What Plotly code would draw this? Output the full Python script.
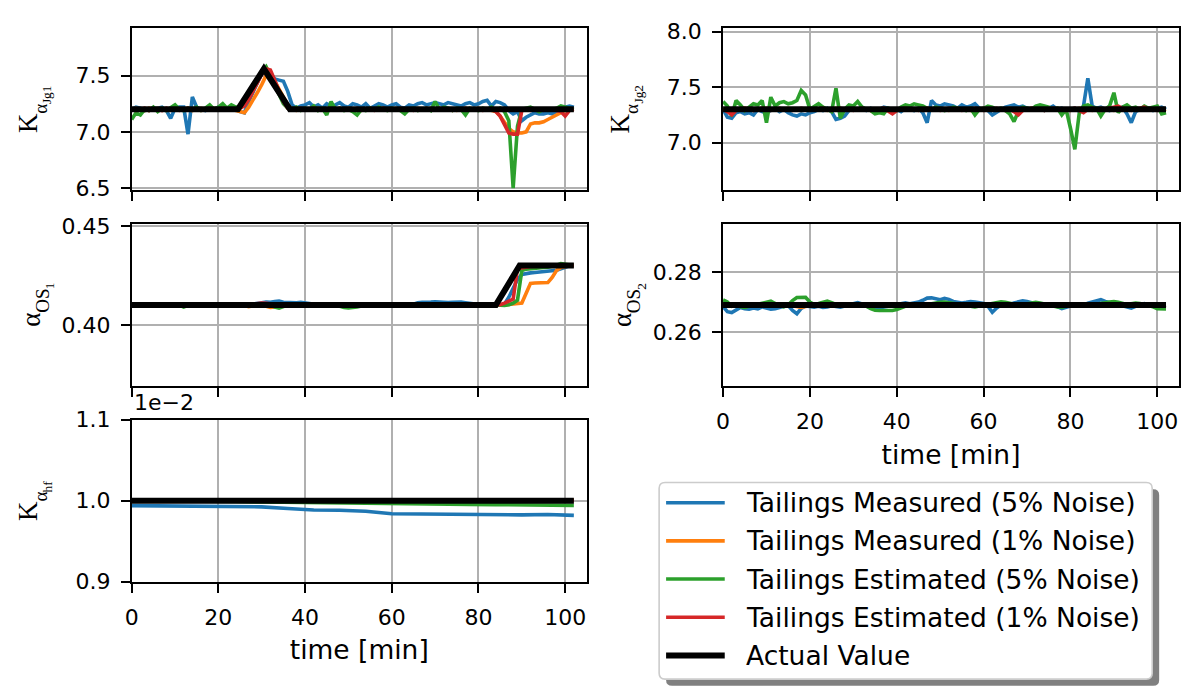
import plotly.graph_objects as go

W, H = 1186, 695

# ---------------------------------------------------------------- data
t = list(range(0, 103))              # sample times [min]
t_hf = list(range(0, 103, 6))        # coarser samples for the K_hf traces

series_names = [
    "Tailings Measured (5% Noise)",
    "Tailings Measured (1% Noise)",
    "Tailings Estimated (5% Noise)",
    "Tailings Estimated (1% Noise)",
    "Actual Value",
]
series_colors = ["#1f77b4", "#ff7f0e", "#2ca02c", "#d62728", "#000000"]

# K_alpha_Jg1
k_jg1_meas5 = [
    7.20, 7.22, 7.21, 7.19, 7.20, 7.21, 7.21, 7.22, 7.19, 7.12,
    7.21, 7.22, 7.22, 6.98, 7.31, 7.22, 7.20, 7.19, 7.21, 7.20,
    7.22, 7.21, 7.20, 7.21, 7.20, 7.18, 7.17, 7.27, 7.36, 7.44,
    7.52, 7.56, 7.52, 7.47, 7.46, 7.45, 7.36, 7.24, 7.21, 7.23,
    7.24, 7.26, 7.22, 7.24, 7.21, 7.25, 7.23, 7.24, 7.26, 7.23,
    7.22, 7.25, 7.24, 7.22, 7.25, 7.21, 7.23, 7.25, 7.24, 7.22,
    7.24, 7.25, 7.22, 7.21, 7.24, 7.23, 7.25, 7.26, 7.24, 7.25,
    7.26, 7.25, 7.24, 7.26, 7.25, 7.24, 7.23, 7.25, 7.26, 7.24,
    7.25, 7.27, 7.28, 7.23, 7.27, 7.26, 7.24, 7.19, 7.16, 7.18,
    7.10, 7.13, 7.15, 7.17, 7.16, 7.16, 7.17, 7.16, 7.18, 7.20,
    7.22, 7.23, 7.22]
k_jg1_meas1 = [
    7.20, 7.21, 7.20, 7.19, 7.21, 7.20, 7.21, 7.20, 7.19, 7.20,
    7.21, 7.20, 7.20, 7.21, 7.19, 7.20, 7.21, 7.20, 7.20, 7.21,
    7.20, 7.21, 7.20, 7.20, 7.19, 7.18, 7.17, 7.22, 7.28, 7.35,
    7.42, 7.50, 7.52, 7.45, 7.38, 7.32, 7.24, 7.20, 7.19, 7.20,
    7.21, 7.20, 7.20, 7.21, 7.20, 7.19, 7.20, 7.21, 7.20, 7.20,
    7.21, 7.20, 7.20, 7.19, 7.20, 7.21, 7.20, 7.20, 7.21, 7.20,
    7.20, 7.21, 7.20, 7.19, 7.20, 7.20, 7.21, 7.20, 7.20, 7.21,
    7.20, 7.20, 7.21, 7.20, 7.20, 7.19, 7.20, 7.21, 7.20, 7.20,
    7.21, 7.20, 7.20, 7.19, 7.18, 7.14, 7.08, 7.03, 7.00, 6.99,
    6.99, 7.00, 7.07, 7.08, 7.08, 7.09, 7.11, 7.13, 7.15, 7.17,
    7.19, 7.20, 7.20]
k_jg1_est5 = [
    7.11, 7.17, 7.15, 7.20, 7.19, 7.22, 7.18, 7.21, 7.19, 7.22,
    7.24, 7.20, 7.19, 7.21, 7.20, 7.22, 7.19, 7.21, 7.24, 7.20,
    7.22, 7.25, 7.21, 7.24, 7.22, 7.22, 7.26, 7.32, 7.40, 7.47,
    7.54, 7.58, 7.50, 7.42, 7.33, 7.25, 7.21, 7.20, 7.22, 7.19,
    7.21, 7.20, 7.23, 7.19, 7.21, 7.15, 7.27, 7.20, 7.21, 7.19,
    7.20, 7.18, 7.15, 7.20, 7.19, 7.21, 7.20, 7.22, 7.20, 7.19,
    7.21, 7.20, 7.19, 7.16, 7.20, 7.21, 7.19, 7.20, 7.21, 7.19,
    7.27, 7.20, 7.22, 7.21, 7.19, 7.21, 7.20, 7.15, 7.21, 7.20,
    7.19, 7.21, 7.20, 7.22, 7.19, 7.21, 7.18, 7.10, 6.50, 7.05,
    7.20, 7.21, 7.22, 7.20, 7.18, 7.20, 7.19, 7.20, 7.21, 7.23,
    7.22, 7.21, 7.20]
k_jg1_est1 = [
    7.20, 7.19, 7.20, 7.21, 7.19, 7.20, 7.20, 7.19, 7.21, 7.20,
    7.20, 7.19, 7.20, 7.21, 7.20, 7.20, 7.19, 7.20, 7.21, 7.20,
    7.20, 7.21, 7.20, 7.20, 7.20, 7.21, 7.23, 7.29, 7.36, 7.44,
    7.51, 7.56, 7.55, 7.46, 7.36, 7.27, 7.21, 7.20, 7.20, 7.21,
    7.20, 7.20, 7.21, 7.20, 7.20, 7.19, 7.20, 7.20, 7.21, 7.20,
    7.20, 7.20, 7.21, 7.20, 7.20, 7.20, 7.19, 7.20, 7.21, 7.20,
    7.20, 7.20, 7.21, 7.20, 7.20, 7.19, 7.20, 7.20, 7.21, 7.20,
    7.20, 7.21, 7.20, 7.20, 7.19, 7.20, 7.20, 7.21, 7.20, 7.20,
    7.20, 7.19, 7.20, 7.20, 7.18, 7.14, 7.06, 6.99, 6.98, 6.98,
    7.19, 7.20, 7.19, 7.20, 7.20, 7.19, 7.20, 7.20, 7.19, 7.18,
    7.14, 7.19, 7.20]
t_jg1_act = [0, 24.5, 30.5, 36.5, 102]
k_jg1_act = [7.2, 7.2, 7.56, 7.2, 7.2]

# alpha_OS1
a_os1_meas5 = [
    0.4101, 0.4099, 0.4100, 0.4098, 0.4100, 0.4101, 0.4099, 0.4100, 0.4102, 0.4100,
    0.4099, 0.4101, 0.4100, 0.4098, 0.4100, 0.4101, 0.4100, 0.4099, 0.4101, 0.4100,
    0.4102, 0.4101, 0.4100, 0.4099, 0.4100, 0.4101, 0.4100, 0.4102, 0.4104, 0.4108,
    0.4112, 0.4115, 0.4114, 0.4118, 0.4120, 0.4114, 0.4112, 0.4113, 0.4112, 0.4114,
    0.4113, 0.4108, 0.4104, 0.4100, 0.4101, 0.4102, 0.4100, 0.4101, 0.4103, 0.4101,
    0.4100, 0.4099, 0.4100, 0.4101, 0.4100, 0.4098, 0.4100, 0.4101, 0.4100, 0.4099,
    0.4100, 0.4101, 0.4100, 0.4099, 0.4101, 0.4104, 0.4112, 0.4114, 0.4113, 0.4115,
    0.4116, 0.4114, 0.4115, 0.4113, 0.4114, 0.4116, 0.4115, 0.4112, 0.4108, 0.4104,
    0.4101, 0.4100, 0.4101, 0.4100, 0.4099, 0.4100, 0.4106, 0.4140, 0.4185, 0.4230,
    0.4255, 0.4260, 0.4263, 0.4265, 0.4267, 0.4268, 0.4270, 0.4272, 0.4276, 0.4284,
    0.4293, 0.4299, 0.4300]
a_os1_meas1 = [
    0.4100, 0.4100, 0.4101, 0.4100, 0.4099, 0.4100, 0.4100, 0.4101, 0.4100, 0.4100,
    0.4100, 0.4099, 0.4100, 0.4100, 0.4101, 0.4100, 0.4100, 0.4099, 0.4100, 0.4100,
    0.4100, 0.4101, 0.4100, 0.4100, 0.4099, 0.4100, 0.4098, 0.4092, 0.4096, 0.4101,
    0.4100, 0.4094, 0.4088, 0.4090, 0.4100, 0.4101, 0.4100, 0.4099, 0.4100, 0.4100,
    0.4100, 0.4101, 0.4100, 0.4099, 0.4100, 0.4100, 0.4101, 0.4100, 0.4100, 0.4099,
    0.4100, 0.4100, 0.4101, 0.4100, 0.4100, 0.4099, 0.4100, 0.4100, 0.4101, 0.4100,
    0.4100, 0.4099, 0.4100, 0.4100, 0.4101, 0.4100, 0.4100, 0.4099, 0.4100, 0.4100,
    0.4101, 0.4100, 0.4100, 0.4099, 0.4100, 0.4100, 0.4101, 0.4100, 0.4100, 0.4099,
    0.4100, 0.4100, 0.4101, 0.4100, 0.4100, 0.4100, 0.4101, 0.4103, 0.4106, 0.4108,
    0.4110, 0.4160, 0.4210, 0.4212, 0.4212, 0.4213, 0.4214, 0.4240, 0.4275, 0.4290,
    0.4296, 0.4300, 0.4300]
a_os1_est5 = [
    0.4101, 0.4104, 0.4100, 0.4099, 0.4101, 0.4102, 0.4104, 0.4100, 0.4099, 0.4100,
    0.4101, 0.4100, 0.4090, 0.4099, 0.4100, 0.4101, 0.4100, 0.4099, 0.4100, 0.4104,
    0.4101, 0.4100, 0.4099, 0.4100, 0.4101, 0.4100, 0.4099, 0.4100, 0.4101, 0.4100,
    0.4099, 0.4096, 0.4100, 0.4090, 0.4084, 0.4092, 0.4100, 0.4099, 0.4100, 0.4101,
    0.4104, 0.4100, 0.4099, 0.4098, 0.4100, 0.4101, 0.4104, 0.4100, 0.4092, 0.4088,
    0.4086, 0.4087, 0.4090, 0.4095, 0.4100, 0.4099, 0.4100, 0.4101, 0.4099, 0.4100,
    0.4099, 0.4100, 0.4101, 0.4100, 0.4099, 0.4100, 0.4101, 0.4100, 0.4099, 0.4100,
    0.4101, 0.4100, 0.4099, 0.4100, 0.4101, 0.4100, 0.4099, 0.4100, 0.4100, 0.4099,
    0.4100, 0.4101, 0.4100, 0.4099, 0.4100, 0.4099, 0.4098, 0.4102, 0.4110, 0.4125,
    0.4275, 0.4282, 0.4285, 0.4287, 0.4288, 0.4290, 0.4292, 0.4296, 0.4302, 0.4310,
    0.4308, 0.4303, 0.4300]
a_os1_est1 = [
    0.4100, 0.4101, 0.4100, 0.4100, 0.4099, 0.4100, 0.4100, 0.4100, 0.4101, 0.4100,
    0.4100, 0.4100, 0.4099, 0.4100, 0.4100, 0.4101, 0.4100, 0.4100, 0.4100, 0.4099,
    0.4100, 0.4100, 0.4101, 0.4100, 0.4100, 0.4100, 0.4099, 0.4100, 0.4104, 0.4108,
    0.4110, 0.4109, 0.4106, 0.4101, 0.4100, 0.4100, 0.4100, 0.4099, 0.4100, 0.4100,
    0.4101, 0.4100, 0.4100, 0.4100, 0.4099, 0.4100, 0.4100, 0.4101, 0.4100, 0.4100,
    0.4100, 0.4099, 0.4100, 0.4100, 0.4100, 0.4101, 0.4100, 0.4100, 0.4099, 0.4100,
    0.4100, 0.4100, 0.4101, 0.4100, 0.4100, 0.4100, 0.4099, 0.4100, 0.4100, 0.4101,
    0.4100, 0.4100, 0.4100, 0.4099, 0.4100, 0.4100, 0.4101, 0.4100, 0.4100, 0.4100,
    0.4099, 0.4100, 0.4100, 0.4100, 0.4101, 0.4102, 0.4110, 0.4120, 0.4130, 0.4285,
    0.4290, 0.4292, 0.4295, 0.4296, 0.4297, 0.4298, 0.4299, 0.4300, 0.4300, 0.4300,
    0.4300, 0.4300, 0.4300]
t_os1_act = [0, 84, 89.5, 102]
a_os1_act = [0.41, 0.41, 0.43, 0.43]

# K_alpha_hf
k_hf_meas5 = [0.009940, 0.009938, 0.009935, 0.009930, 0.009928, 0.009925,
              0.009905, 0.009886, 0.009882, 0.009870, 0.009840, 0.009836,
              0.009834, 0.009831, 0.009829, 0.009826, 0.009830, 0.009820]
k_hf_meas1 = [0.010000, 0.010002, 0.010003, 0.010004, 0.010006, 0.010012,
              0.010015, 0.010012, 0.010010, 0.010010, 0.010011, 0.010010,
              0.010010, 0.010011, 0.010010, 0.010010, 0.010011, 0.010010]
k_hf_est5 = [0.010000, 0.010000, 0.009998, 0.009995, 0.009990, 0.009985,
             0.009980, 0.009975, 0.009970, 0.009965, 0.009962, 0.009960,
             0.009958, 0.009955, 0.009952, 0.009950, 0.009947, 0.009943]
k_hf_est1 = [0.010000, 0.010001, 0.010000, 0.010001, 0.010002, 0.010003,
             0.010002, 0.010001, 0.010001, 0.010000, 0.010001, 0.010000,
             0.010000, 0.010001, 0.010000, 0.010000, 0.010001, 0.010000]
t_flat_act = [0, 102]
k_hf_act = [0.01, 0.01]
HF_SCALE = 1e-2

# K_alpha_Jg2
k_jg2_meas5 = [
    7.30, 7.23, 7.22, 7.27, 7.28, 7.26, 7.27, 7.25, 7.30, 7.28,
    7.27, 7.29, 7.31, 7.28, 7.30, 7.27, 7.25, 7.24, 7.26, 7.25,
    7.27, 7.28, 7.30, 7.29, 7.31, 7.28, 7.21, 7.22, 7.24, 7.29,
    7.31, 7.30, 7.32, 7.29, 7.31, 7.28, 7.30, 7.32, 7.31, 7.29,
    7.30, 7.28, 7.31, 7.30, 7.29, 7.31, 7.27, 7.18, 7.38, 7.34,
    7.33, 7.35, 7.34, 7.33, 7.31, 7.34, 7.32, 7.33, 7.35, 7.31,
    7.30, 7.29, 7.25, 7.28, 7.30, 7.32, 7.33, 7.34, 7.32, 7.33,
    7.31, 7.30, 7.32, 7.31, 7.29, 7.31, 7.33, 7.30, 7.31, 7.29,
    7.30, 7.31, 7.28, 7.33, 7.58, 7.33, 7.31, 7.32, 7.30, 7.29,
    7.31, 7.30, 7.32, 7.26, 7.18, 7.28, 7.30, 7.32, 7.31, 7.29,
    7.31, 7.32, 7.30]
k_jg2_meas1 = [
    7.30, 7.31, 7.29, 7.30, 7.30, 7.31, 7.30, 7.29, 7.30, 7.30,
    7.31, 7.30, 7.30, 7.29, 7.30, 7.31, 7.30, 7.30, 7.29, 7.30,
    7.30, 7.31, 7.30, 7.30, 7.29, 7.30, 7.31, 7.30, 7.30, 7.29,
    7.30, 7.30, 7.31, 7.30, 7.29, 7.30, 7.30, 7.31, 7.30, 7.30,
    7.29, 7.30, 7.30, 7.31, 7.30, 7.30, 7.29, 7.30, 7.30, 7.31,
    7.30, 7.30, 7.29, 7.30, 7.31, 7.30, 7.30, 7.29, 7.30, 7.30,
    7.31, 7.30, 7.30, 7.29, 7.30, 7.30, 7.31, 7.30, 7.30, 7.29,
    7.30, 7.31, 7.30, 7.30, 7.29, 7.30, 7.30, 7.31, 7.30, 7.30,
    7.29, 7.30, 7.31, 7.30, 7.30, 7.29, 7.30, 7.31, 7.30, 7.30,
    7.29, 7.30, 7.30, 7.31, 7.30, 7.29, 7.30, 7.30, 7.31, 7.30,
    7.30, 7.29, 7.30]
k_jg2_est5 = [
    7.37, 7.33, 7.24, 7.38, 7.34, 7.29, 7.32, 7.35, 7.34, 7.38,
    7.18, 7.41, 7.33, 7.36, 7.37, 7.35, 7.36, 7.38, 7.47, 7.43,
    7.30, 7.33, 7.35, 7.32, 7.30, 7.28, 7.49, 7.22, 7.30, 7.34,
    7.33, 7.37, 7.32, 7.30, 7.29, 7.26, 7.27, 7.26, 7.31, 7.30,
    7.29, 7.32, 7.34, 7.33, 7.35, 7.34, 7.33, 7.31, 7.30, 7.32,
    7.31, 7.29, 7.30, 7.32, 7.31, 7.30, 7.29, 7.31, 7.25, 7.30,
    7.31, 7.33, 7.32, 7.30, 7.31, 7.29, 7.26, 7.19, 7.28, 7.32,
    7.31, 7.30, 7.33, 7.34, 7.33, 7.32, 7.30, 7.31, 7.25, 7.30,
    7.13, 6.94, 7.26, 7.33, 7.34, 7.32, 7.31, 7.24, 7.30, 7.33,
    7.45, 7.27, 7.32, 7.34, 7.31, 7.32, 7.30, 7.33, 7.31, 7.32,
    7.33, 7.26, 7.27]
k_jg2_est1 = [
    7.30, 7.28, 7.25, 7.29, 7.30, 7.31, 7.30, 7.29, 7.30, 7.31,
    7.30, 7.29, 7.30, 7.31, 7.30, 7.30, 7.29, 7.30, 7.31, 7.30,
    7.29, 7.30, 7.30, 7.31, 7.30, 7.29, 7.30, 7.31, 7.30, 7.30,
    7.29, 7.30, 7.31, 7.30, 7.29, 7.30, 7.30, 7.31, 7.28, 7.26,
    7.29, 7.30, 7.31, 7.30, 7.30, 7.29, 7.30, 7.31, 7.30, 7.30,
    7.29, 7.30, 7.31, 7.30, 7.30, 7.29, 7.30, 7.30, 7.31, 7.30,
    7.29, 7.30, 7.30, 7.31, 7.30, 7.29, 7.30, 7.28, 7.25, 7.29,
    7.30, 7.31, 7.30, 7.30, 7.29, 7.30, 7.31, 7.30, 7.30, 7.29,
    7.30, 7.31, 7.29, 7.27, 7.30, 7.31, 7.30, 7.29, 7.30, 7.31,
    7.32, 7.33, 7.31, 7.30, 7.29, 7.30, 7.31, 7.32, 7.30, 7.30,
    7.29, 7.30, 7.30]
k_jg2_act = [7.3, 7.3]

# alpha_OS2
a_os2_meas5 = [
    0.2685, 0.2668, 0.2665, 0.2672, 0.2682, 0.2678, 0.2676, 0.2680, 0.2677, 0.2684,
    0.2680, 0.2676, 0.2678, 0.2683, 0.2686, 0.2688, 0.2672, 0.2661, 0.2679, 0.2687,
    0.2684, 0.2683, 0.2686, 0.2682, 0.2684, 0.2688, 0.2685, 0.2683, 0.2687, 0.2690,
    0.2692, 0.2698, 0.2694, 0.2688, 0.2680, 0.2678, 0.2681, 0.2684, 0.2686, 0.2689,
    0.2692, 0.2695, 0.2697, 0.2694, 0.2696, 0.2700, 0.2706, 0.2713, 0.2714, 0.2710,
    0.2708, 0.2712, 0.2709, 0.2702, 0.2698, 0.2697, 0.2699, 0.2702, 0.2700, 0.2698,
    0.2695, 0.2686, 0.2666, 0.2680, 0.2690, 0.2694, 0.2692, 0.2697, 0.2701, 0.2704,
    0.2702, 0.2698, 0.2695, 0.2690, 0.2686, 0.2689, 0.2692, 0.2685, 0.2678, 0.2683,
    0.2688, 0.2691, 0.2694, 0.2690, 0.2696, 0.2701, 0.2706, 0.2708, 0.2702, 0.2697,
    0.2694, 0.2690, 0.2688, 0.2684, 0.2680, 0.2686, 0.2692, 0.2695, 0.2690, 0.2686,
    0.2687, 0.2689, 0.2690]
a_os2_meas1 = [
    0.2690, 0.2691, 0.2689, 0.2690, 0.2690, 0.2691, 0.2690, 0.2689, 0.2690, 0.2690,
    0.2691, 0.2690, 0.2689, 0.2690, 0.2690, 0.2689, 0.2688, 0.2684, 0.2682, 0.2685,
    0.2689, 0.2690, 0.2691, 0.2690, 0.2689, 0.2690, 0.2691, 0.2690, 0.2689, 0.2690,
    0.2690, 0.2691, 0.2690, 0.2689, 0.2690, 0.2690, 0.2689, 0.2691, 0.2690, 0.2690,
    0.2689, 0.2690, 0.2691, 0.2690, 0.2690, 0.2689, 0.2690, 0.2691, 0.2690, 0.2689,
    0.2690, 0.2690, 0.2691, 0.2689, 0.2690, 0.2690, 0.2691, 0.2690, 0.2689, 0.2690,
    0.2691, 0.2690, 0.2690, 0.2689, 0.2690, 0.2691, 0.2690, 0.2689, 0.2690, 0.2690,
    0.2691, 0.2690, 0.2689, 0.2690, 0.2690, 0.2691, 0.2690, 0.2689, 0.2690, 0.2691,
    0.2690, 0.2689, 0.2690, 0.2690, 0.2691, 0.2690, 0.2689, 0.2690, 0.2691, 0.2690,
    0.2690, 0.2689, 0.2690, 0.2691, 0.2690, 0.2690, 0.2689, 0.2690, 0.2691, 0.2690,
    0.2690, 0.2689, 0.2690]
a_os2_est5 = [
    0.2707, 0.2700, 0.2686, 0.2690, 0.2684, 0.2682, 0.2686, 0.2689, 0.2691, 0.2694,
    0.2700, 0.2703, 0.2695, 0.2688, 0.2684, 0.2690, 0.2705, 0.2715, 0.2717, 0.2716,
    0.2700, 0.2692, 0.2695, 0.2699, 0.2703, 0.2698, 0.2692, 0.2690, 0.2688, 0.2686,
    0.2691, 0.2693, 0.2690, 0.2686, 0.2678, 0.2673, 0.2672, 0.2671, 0.2673, 0.2672,
    0.2675, 0.2681, 0.2688, 0.2692, 0.2691, 0.2693, 0.2694, 0.2692, 0.2695, 0.2697,
    0.2699, 0.2700, 0.2698, 0.2695, 0.2693, 0.2690, 0.2688, 0.2686, 0.2684, 0.2687,
    0.2690, 0.2693, 0.2696, 0.2699, 0.2701, 0.2699, 0.2695, 0.2693, 0.2690, 0.2692,
    0.2695, 0.2698, 0.2699, 0.2697, 0.2693, 0.2689, 0.2686, 0.2684, 0.2683, 0.2686,
    0.2690, 0.2693, 0.2692, 0.2690, 0.2688, 0.2691, 0.2694, 0.2696, 0.2698, 0.2700,
    0.2702, 0.2699, 0.2695, 0.2692, 0.2694, 0.2697, 0.2695, 0.2692, 0.2689, 0.2684,
    0.2678, 0.2676, 0.2677]
a_os2_est1 = [
    0.2690, 0.2689, 0.2690, 0.2691, 0.2690, 0.2689, 0.2690, 0.2690, 0.2691, 0.2690,
    0.2689, 0.2690, 0.2690, 0.2691, 0.2690, 0.2689, 0.2690, 0.2691, 0.2690, 0.2690,
    0.2689, 0.2690, 0.2691, 0.2690, 0.2690, 0.2689, 0.2690, 0.2690, 0.2691, 0.2690,
    0.2689, 0.2690, 0.2690, 0.2691, 0.2690, 0.2689, 0.2690, 0.2690, 0.2691, 0.2690,
    0.2689, 0.2690, 0.2691, 0.2690, 0.2690, 0.2689, 0.2690, 0.2690, 0.2691, 0.2690,
    0.2689, 0.2690, 0.2690, 0.2691, 0.2690, 0.2689, 0.2690, 0.2691, 0.2690, 0.2690,
    0.2689, 0.2690, 0.2690, 0.2691, 0.2690, 0.2689, 0.2690, 0.2690, 0.2691, 0.2690,
    0.2689, 0.2690, 0.2691, 0.2690, 0.2690, 0.2689, 0.2690, 0.2690, 0.2691, 0.2690,
    0.2689, 0.2690, 0.2690, 0.2691, 0.2690, 0.2689, 0.2690, 0.2691, 0.2690, 0.2690,
    0.2689, 0.2690, 0.2690, 0.2691, 0.2690, 0.2689, 0.2690, 0.2690, 0.2691, 0.2690,
    0.2689, 0.2690, 0.2690]
a_os2_act = [0.269, 0.269]

# ---------------------------------------------------------------- figure
fig = go.Figure()

COLOR_W = 3.6
ACTUAL_W = 6


def add_panel(n, tx, series, t_act, act, scale=1.0):
    xa, ya = ("x", "y") if n == 1 else (f"x{n}", f"y{n}")
    for name, color, ys in zip(series_names[:4], series_colors[:4], series):
        fig.add_trace(go.Scatter(
            x=tx, y=[v / scale for v in ys], mode="lines", name=name,
            line=dict(color=color, width=COLOR_W), showlegend=False,
            xaxis=xa, yaxis=ya))
    fig.add_trace(go.Scatter(
        x=t_act, y=[v / scale for v in act], mode="lines", name=series_names[4],
        line=dict(color=series_colors[4], width=ACTUAL_W), showlegend=False,
        xaxis=xa, yaxis=ya))


add_panel(1, t, [k_jg1_meas5, k_jg1_meas1, k_jg1_est5, k_jg1_est1], t_jg1_act, k_jg1_act)
add_panel(2, t, [k_jg2_meas5, k_jg2_meas1, k_jg2_est5, k_jg2_est1], t_flat_act, k_jg2_act)
add_panel(3, t, [a_os1_meas5, a_os1_meas1, a_os1_est5, a_os1_est1], t_os1_act, a_os1_act)
add_panel(4, t, [a_os2_meas5, a_os2_meas1, a_os2_est5, a_os2_est1], t_flat_act, a_os2_act)
add_panel(5, t_hf, [k_hf_meas5, k_hf_meas1, k_hf_est5, k_hf_est1], t_flat_act, k_hf_act,
          scale=HF_SCALE)

TICK_FONT = dict(family="DejaVu Sans", size=22, color="black")
LABEL_FONT = dict(family="DejaVu Sans", size=26.5, color="black")
SERIF = "Liberation Serif"

left_dom = [125.4 / W, 583.3 / W]
right_dom = [720.3 / W, 1179.0 / W]
rows = [(17, 185), (220, 388), (423, 591)]


def ydom(r):
    top, bot = rows[r]
    return [1 - bot / H, 1 - top / H]


common = dict(showline=True, linecolor="black", linewidth=1.6, mirror=True,
              ticks="outside", ticklen=9, tickwidth=1.6, tickcolor="black",
              showgrid=True, gridcolor="#b0b0b0", gridwidth=1.6, zeroline=False,
              tickfont=TICK_FONT, ticklabelstandoff=6)

x_ticks = [0, 20, 40, 60, 80, 100]


def xaxis(dom, anchor, labels):
    d = dict(common, domain=dom, anchor=anchor, range=[0, 105], tickvals=x_ticks,
             showticklabels=labels)
    if labels:
        d["title"] = dict(text="time [min]", font=LABEL_FONT, standoff=12)
    return d


def yaxis(dom, anchor, rng, ticks, fmt):
    return dict(common, domain=dom, anchor=anchor, range=rng, tickvals=ticks,
                tickformat=fmt)


fig.update_layout(
    xaxis=xaxis(left_dom, "y", False),
    yaxis=yaxis(ydom(0), "x", [6.48, 7.92], [6.5, 7.0, 7.5], ".1f"),
    xaxis2=xaxis(right_dom, "y2", False),
    yaxis2=yaxis(ydom(0), "x2", [6.57, 8.03], [7.0, 7.5, 8.0], ".1f"),
    xaxis3=xaxis(left_dom, "y3", False),
    yaxis3=yaxis(ydom(1), "x3", [0.369, 0.451], [0.35, 0.40, 0.45], ".2f"),
    xaxis4=xaxis(right_dom, "y4", True),
    yaxis4=yaxis(ydom(1), "x4", [0.2421, 0.2959], [0.26, 0.28], ".2f"),
    xaxis5=xaxis(left_dom, "y5", True),
    yaxis5=yaxis(ydom(2), "x5", [0.9, 1.1], [0.9, 1.0, 1.1], ".1f"),
)

# offset label of the K_hf axis
fig.add_annotation(x=125.4 / W, y=1 - 405 / H, xref="paper", yref="paper",
                   text="1e\u22122", showarrow=False, xanchor="left", yanchor="middle",
                   font=TICK_FONT)

# ---------------------------------------------------------------- y labels
# rotated math-style labels built from a base symbol, a subscript and a
# second-level subscript
LEVEL_SIZE = [27, 19, 13.3]
LEVEL_DROP = [0, 9.5, 14]
EM = {"K": 0.722, "α": 0.56, "J": 0.389, "g": 0.5, "1": 0.5, "2": 0.5,
      "h": 0.5, "f": 0.333, "O": 0.722, "S": 0.556}


def add_ylabel(x_base, y_mid, parts):
    lens = [sum(EM[c] for c in txt) * LEVEL_SIZE[lv] for txt, lv in parts]
    bottom = y_mid + sum(lens) / 2
    start = 0.0
    for (txt, lv), ln in zip(parts, lens):
        yc = bottom - (start + ln / 2)
        xc = x_base + LEVEL_DROP[lv] - 0.34 * LEVEL_SIZE[lv]
        fig.add_annotation(x=xc / W, y=1 - yc / H, xref="paper", yref="paper",
                           text=txt, textangle=-90, showarrow=False,
                           xanchor="center", yanchor="middle", borderpad=0,
                           font=dict(family=SERIF, size=LEVEL_SIZE[lv], color="black"))
        start += ln


row_mid = [(a + b) / 2 for a, b in rows]
COL_SHIFT = 594.9
add_ylabel(31, row_mid[0], [("K", 0), ("α", 1), ("Jg1", 2)])
add_ylabel(33, row_mid[1], [("α", 0), ("OS", 1), ("1", 2)])
add_ylabel(31, row_mid[2], [("K", 0), ("α", 1), ("hf", 2)])
add_ylabel(31 + COL_SHIFT, row_mid[0], [("K", 0), ("α", 1), ("Jg2", 2)])
add_ylabel(33 + COL_SHIFT, row_mid[1], [("α", 0), ("OS", 1), ("2", 2)])


# ---------------------------------------------------------------- legend box
def px(x, y):
    return f"{x / W:.6f},{1 - y / H:.6f}"


def rounded_rect(x0, y0, x1, y1, r):
    return (f"M{px(x0 + r, y0)} L{px(x1 - r, y0)} Q{px(x1, y0)} {px(x1, y0 + r)} "
            f"L{px(x1, y1 - r)} Q{px(x1, y1)} {px(x1 - r, y1)} "
            f"L{px(x0 + r, y1)} Q{px(x0, y1)} {px(x0, y1 - r)} "
            f"L{px(x0, y0 + r)} Q{px(x0, y0)} {px(x0 + r, y0)} Z")


LEG = (656, 488, 1152, 692)
SHADOW = 7
fig.add_shape(type="path", xref="paper", yref="paper",
              path=rounded_rect(LEG[0] + SHADOW, LEG[1] + SHADOW,
                                LEG[2] + SHADOW, LEG[3] + SHADOW, 6),
              fillcolor="#808080", line=dict(width=0))
fig.add_shape(type="path", xref="paper", yref="paper",
              path=rounded_rect(*LEG, 6), fillcolor="white",
              line=dict(color="#cccccc", width=1.6))

row_y0, row_dy = 509, 39.6
for i, (name, color) in enumerate(zip(series_names, series_colors)):
    yy = 1 - (row_y0 + i * row_dy) / H
    fig.add_shape(type="line", xref="paper", yref="paper",
                  x0=663 / W, x1=722 / W, y0=yy, y1=yy,
                  line=dict(color=color, width=ACTUAL_W if i == 4 else COLOR_W))
    fig.add_annotation(x=741 / W, y=yy, xref="paper", yref="paper", text=name,
                       showarrow=False, xanchor="left", yanchor="middle",
                       font=LABEL_FONT)

fig.update_layout(
    width=W, height=H, margin=dict(l=0, r=0, t=0, b=0),
    paper_bgcolor="white", plot_bgcolor="white", showlegend=False,
    font=dict(family="DejaVu Sans", color="black"),
)

fig.write_html("out.html")
